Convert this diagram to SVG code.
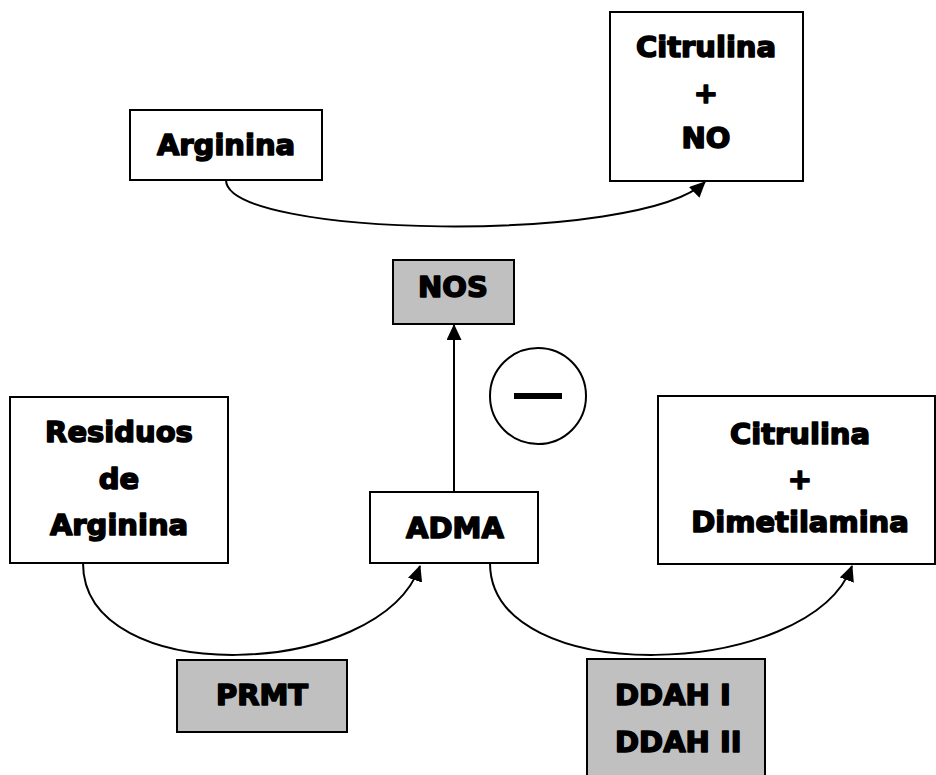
<svg xmlns="http://www.w3.org/2000/svg" width="936" height="775" viewBox="0 0 936 775">
<style>
.box{fill:#fff;stroke:#000;stroke-width:2}
.gray{fill:#c0c0c0;stroke:#000;stroke-width:2}
.t{font-family:"DejaVu Sans",sans-serif;font-weight:bold;font-size:29px;fill:#000;stroke:#000;stroke-width:1.6;stroke-linejoin:round;text-anchor:middle}
.c{fill:none;stroke:#000;stroke-width:2}
</style>
<defs>
<marker id="ah" viewBox="0 0 16 15" refX="15" refY="7.5" markerWidth="16" markerHeight="15" markerUnits="userSpaceOnUse" orient="auto">
<path d="M0,0 L16,7.5 L0,15 Z" fill="#000"/>
</marker>
</defs>
<rect width="936" height="775" fill="#fff"/>
<g id="connectors">
<path class="c" d="M226,180 C226,238 640,245 705,182" marker-end="url(#ah)"/>
<path class="c" d="M454,492 L454,325" marker-end="url(#ah)"/>
<path class="c" d="M83,563 C83,690 380,680 420,566" marker-end="url(#ah)"/>
<path class="c" d="M490,563 C490,690 810,680 852,566" marker-end="url(#ah)"/>
</g>
<g id="arginina">
<rect class="box" x="130" y="110" width="192" height="70"/>
<text class="t" x="226" y="155">Arginina</text>
</g>
<g id="citrulina-no">
<rect class="box" x="610" y="12" width="193" height="169"/>
<text class="t" x="706" y="57">Citrulina</text>
<text class="t" x="706" y="103">+</text>
<text class="t" x="706" y="148">NO</text>
</g>
<g id="nos">
<rect class="gray" x="393" y="260" width="121" height="64"/>
<text class="t" x="453" y="297">NOS</text>
</g>
<g id="inhibicion">
<circle cx="538" cy="396" r="48" fill="#fff" stroke="#000" stroke-width="2"/>
<rect x="514" y="393" width="48" height="6" fill="#000"/>
</g>
<g id="residuos">
<rect class="box" x="10" y="397" width="218" height="166"/>
<text class="t" x="119" y="442">Residuos</text>
<text class="t" x="119" y="489">de</text>
<text class="t" x="119" y="535">Arginina</text>
</g>
<g id="adma">
<rect class="box" x="370" y="492" width="168" height="71"/>
<text class="t" x="455" y="538">ADMA</text>
</g>
<g id="citrulina-dma">
<rect class="box" x="658" y="396" width="277" height="168"/>
<text class="t" x="800" y="444">Citrulina</text>
<text class="t" x="800" y="489">+</text>
<text class="t" x="800" y="532">Dimetilamina</text>
</g>
<g id="prmt">
<rect class="gray" x="177" y="660" width="170" height="72"/>
<text class="t" x="262" y="705">PRMT</text>
</g>
<g id="ddah">
<rect class="gray" x="587" y="659" width="178" height="130"/>
<text class="t" x="615" y="705" style="text-anchor:start">DDAH I</text>
<text class="t" x="615" y="752" style="text-anchor:start">DDAH II</text>
</g>
</svg>
